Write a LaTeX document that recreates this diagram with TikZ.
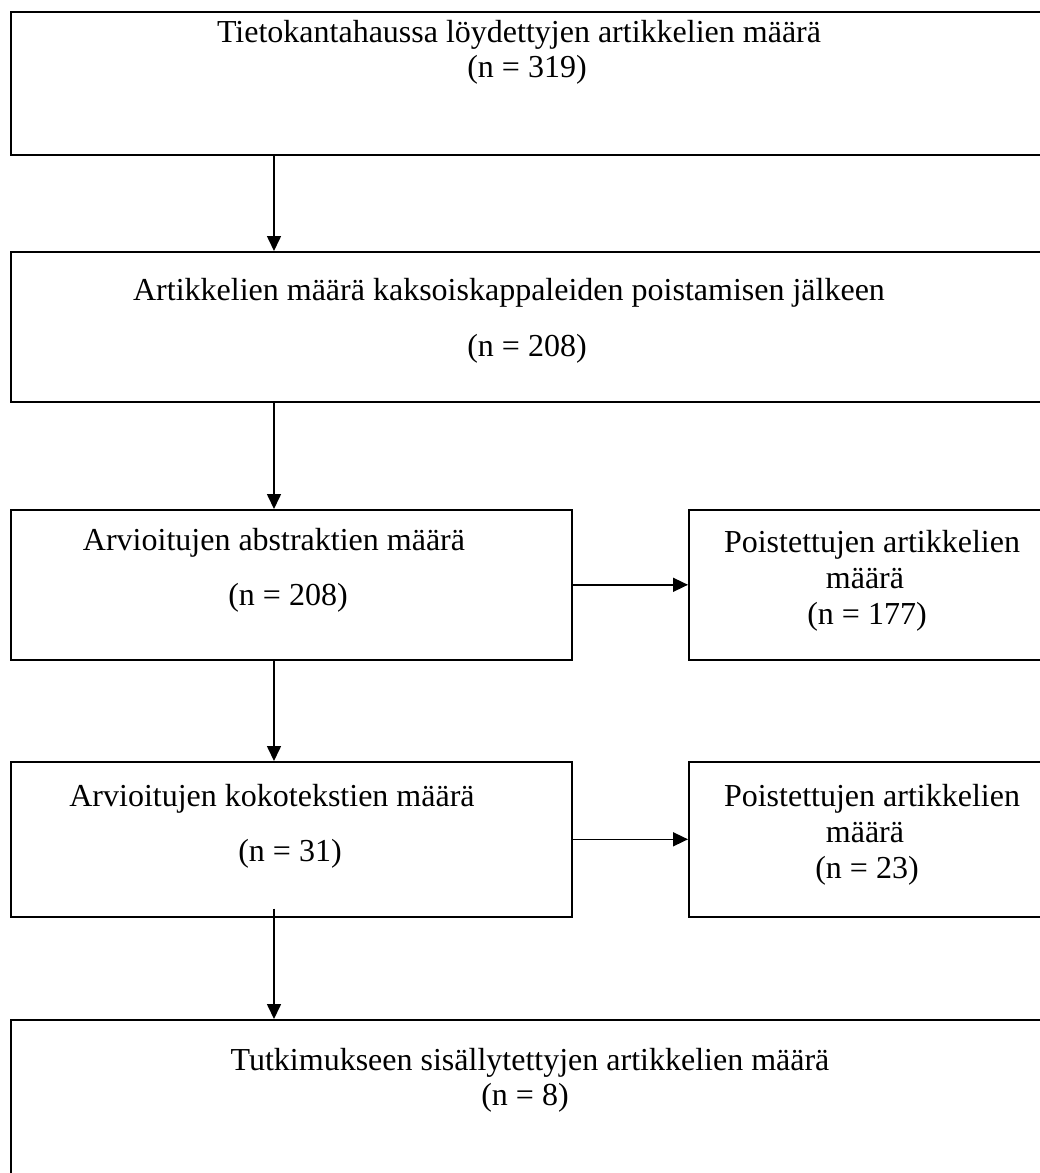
\documentclass[tikz,border=0pt]{standalone}
\usepackage{fontspec}
\setmainfont{Liberation Serif}
\usetikzlibrary{arrows.meta,calc}
\begin{document}
\begin{tikzpicture}[x=1pt,y=-1pt,
  box/.style={draw=black,line width=1.6pt,rectangle,inner sep=0pt,anchor=north west},
  txt/.style={font=\fontsize{32}{37}\selectfont,inner sep=0pt,anchor=base},
  arr/.style={draw=black,line width=1.6pt,-{Triangle[length=15pt,width=14pt]}}]
\clip (0,0) rectangle (1040,1173);
\fill[white] (0,0) rectangle (1040,1173);
\coordinate (ax) at (274,0);
% boxes
\node[box,minimum width=1035pt,minimum height=143pt] (b1) at (10,11) {};
\node[box,minimum width=1035pt,minimum height=150pt] (b2) at (10,251) {};
\node[box,minimum width=561pt,minimum height=150pt] (b3) at (10,509) {};
\node[box,minimum width=357pt,minimum height=150pt] (b4) at (688,509) {};
\node[box,minimum width=561pt,minimum height=155pt] (b5) at (10,761) {};
\node[box,minimum width=357pt,minimum height=155pt] (b6) at (688,761) {};
\node[box,minimum width=1035pt,minimum height=170pt] (b7) at (10,1019) {};
% texts
\node[txt] (t1a) at (519,42) {Tietokantahaussa löydettyjen artikkelien määrä};
\node[txt] (t1b) at (527,77) {(n = 319)};
\node[txt] (t2a) at (509,300) {Artikkelien määrä kaksoiskappaleiden poistamisen jälkeen};
\node[txt] (t2b) at (527,356) {(n = 208)};
\node[txt] (t3a) at (274,550) {Arvioitujen abstraktien määrä};
\node[txt] (t3b) at (288,605) {(n = 208)};
\node[txt] (t4a) at (872,552) {Poistettujen artikkelien};
\node[txt] (t4b) at (865,588) {määrä};
\node[txt] (t4c) at (867,624) {(n = 177)};
\node[txt] (t5a) at (272,806) {Arvioitujen kokotekstien määrä};
\node[txt] (t5b) at (290,861) {(n = 31)};
\node[txt] (t6a) at (872,806) {Poistettujen artikkelien};
\node[txt] (t6b) at (865,842) {määrä};
\node[txt] (t6c) at (867,878) {(n = 23)};
\node[txt] (t7a) at (530,1070) {Tutkimukseen sisällytettyjen artikkelien määrä};
\node[txt] (t7b) at (525,1105) {(n = 8)};
% connectors
\draw[arr] (b1.south -| ax) -- (b2.north -| ax);
\draw[arr] (b2.south -| ax) -- (b3.north -| ax);
\draw[arr] (b3.south -| ax) -- (b5.north -| ax);
\draw[arr] ($(b5.south -| ax)+(0,-9)$) -- (b7.north -| ax);
\draw[arr] (b3.east) -- (b4.west);
\draw[arr] (b5.east) -- (b6.west);
\end{tikzpicture}
\end{document}
